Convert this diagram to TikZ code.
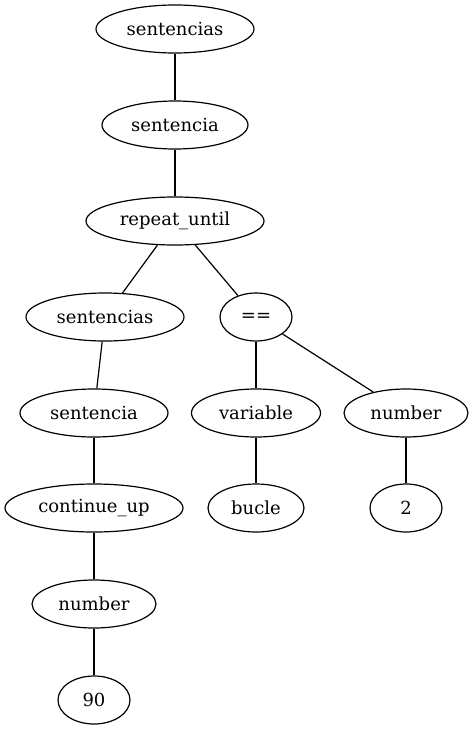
\documentclass[tikz,border=0pt]{standalone}
\usepackage{fontspec}
\setmainfont{DejaVu Serif}
\usetikzlibrary{shapes.geometric}

\begin{document}
\begin{tikzpicture}[
    x=1pt, y=-1pt,
    treenode/.style={
        draw=black, line width=1.2pt, ellipse, inner sep=0pt,
        minimum height=48pt, font=\fontsize{18}{20}\selectfont
    },
    treeedge/.style={draw=black, line width=1.2pt}
]
\path[use as bounding box] (0,0) rectangle (474,731);

% Top chain
\node[treenode, minimum width=158pt] (root) at (175,29) {sentencias};
\node[treenode, minimum width=146pt] (sent1) at (175,125) {sentencia};
\node[treenode, minimum width=178pt] (repeat) at (175,221) {repeat\_until};

% Body and condition
\node[treenode, minimum width=158pt] (body) at (105,317) {sentencias};
\node[treenode, minimum width=72pt] (eq) at (256,317) {==};

% Third level
\node[treenode, minimum width=148pt] (sent2) at (94,413) {sentencia};
\node[treenode, minimum width=129pt] (var) at (256,413) {variable};
\node[treenode, minimum width=124pt] (numr) at (406,413) {number};

% Leaves
\node[treenode, minimum width=178pt] (cont) at (94,508) {continue\_up};
\node[treenode, minimum width=96pt] (bucle) at (256,508) {bucle};
\node[treenode, minimum width=72pt] (two) at (406,508) {2};
\node[treenode, minimum width=124pt] (numl) at (94,604) {number};
\node[treenode, minimum width=72pt] (ninety) at (94,700) {90};

% Edges
\draw[treeedge] (root) -- (sent1);
\draw[treeedge] (sent1) -- (repeat);
\draw[treeedge] (repeat) -- (body);
\draw[treeedge] (repeat) -- (eq);
\draw[treeedge] (body) -- (sent2);
\draw[treeedge] (eq) -- (var);
\draw[treeedge] (eq) -- (numr);
\draw[treeedge] (sent2) -- (cont);
\draw[treeedge] (var) -- (bucle);
\draw[treeedge] (numr) -- (two);
\draw[treeedge] (cont) -- (numl);
\draw[treeedge] (numl) -- (ninety);

\end{tikzpicture}
\end{document}
